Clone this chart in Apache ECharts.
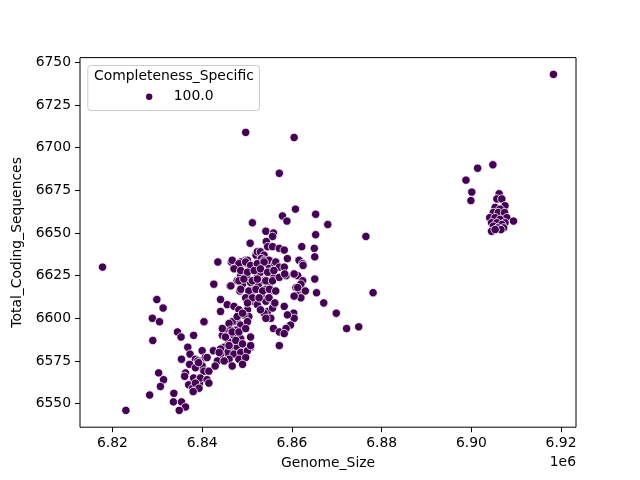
<!DOCTYPE html>
<html>
<head>
<meta charset="utf-8">
<script src="https://cdn.jsdelivr.net/npm/echarts@6/dist/echarts.min.js"></script>
<style>html,body{margin:0;padding:0;background:#fff}#c{width:640px;height:480px}</style>
</head>
<body>
<div id="c"></div>
<script>
const genomeSize = [
6817800,6823000,6828300,6829000,6828900,6829900,6831300,6830500,6830300,6831400,
6830700,6834500,6835300,6838100,6840500,6836800,6837300,6835400,6838500,6837200,
6836300,6836100,6837000,6838100,6839200,6837900,6839900,6840200,6840000,6839400,
6833700,6833600,6835400,6836300,6834900,
6843500,6846500,6847600,6848400,6849700,6850100,6852000,6852900,6853500,6847800,
6848600,6849000,6849900,6850800,6851200,6852300,6853000,6852600,6853800,6854900,
6855700,6856000,6854900,6854200,6855300,6853400,6851400,6852300,6842600,6846200,
6844100,6845600,6847100,6844100,6848400,6856000,6854600,6855300,6853800,6853000,
6855900,6857200,6857200,6850800,6850100,6850400,6849300,6848200,6847800,6846700,
6846000,6848600,6847500,6846400,6844900,6844500,6845600,6847100,6848600,6846000,
6844900,6846400,6847800,6848200,6846700,6845600,6844100,6843400,6842500,6840700,
6839000,6840000,6838500,6840400,6841500,6839600,6841100,6838500,6839300,6841500,
6838000,6854200,
6851200,6854200,6855900,6855700,6850700,6854300,6854600,6855700,6857200,6852300,
6853000,6853800,6853200,6853800,6854900,6856200,6850100,6848600,6846700,6860800,
6857900,6858900,6858300,6862200,6859000,6861600,6862400,6848200,6849700,6850800,
6852300,6853800,6856400,6857200,6847100,6848600,6850100,6851600,6853000,6854600,
6856000,6858300,6860500,6846400,6848200,6849300,6851200,6852300,6854200,6855700,
6857200,6858700,6861300,6862400,6848600,6850400,6852000,6853500,6855000,6856400,
6860900,6861600,6862700,6849700,6851200,6852700,6854900,
6848200,6850100,6854200,6855700,6840400,6844500,6847800,6849000,6850100,6846700,
6845200,6848200,6849700,6850800,6847500,6846000,6849000,6847100,6848600,6850100,
6850800,6844100,6846000,6848200,6849700,6849000,6846700,6844900,6843800,6841100,
6839200,6842900,
6865300,6876500,6865100,6862500,6858400,6860500,6865100,6862000,6861300,6863000,
6862000,6860500,6865500,6878100,6867100,6869900,6872200,6874900,6856200,6858300,
6860400,6860500,6859000,6859700,6858700,6858300,6865000,
6865300,6868000,6849700,6860500,6857200,
6904800,6901400,6898800,6900100,6899900,6906200,6905700,6906800,6907500,6905300,
6906400,6904900,6906000,6907400,6907900,6904100,6905300,6906400,6907500,6909400,
6904500,6905700,6906800,6907200,6904900,6905900,6904500,6906600,6905300,6918300
];
const codingSeqs = [
6630,6546,6555,6587,6600,6611,6606,6598,6568,6564,
6560,6592,6589,6590,6598,6583,6579,6576,6576,6573,
6568,6566,6561,6565,6563,6559,6575,6570,6581,6562,
6556,6551,6551,6548,6546,
6633,6633,6630,6631,6634,6632,6637,6638,6636,6622,
6625,6620,6624,6621,6616,6624,6627,6620,6622,6631,
6628,6624,6619,6617,6616,6612,6610,6608,6620,6619,
6611,6608,6607,6604,6616,6608,6604,6600,6603,6605,
6594,6592,6584,6583,6605,6601,6602,6602,6598,6598,
6597,6596,6593,6593,6593,6590,6589,6590,6588,6586,
6583,6582,6583,6579,6579,6580,6579,6575,6581,6577,
6575,6572,6571,6569,6569,6565,6564,6562,6559,6562,
6557,6610,
6656,6651,6650,6648,6644,6645,6642,6642,6641,6639,
6639,6637,6635,6634,6634,6632,6634,6633,6634,6664,
6660,6657,6640,6642,6635,6634,6632,6632,6633,6631,
6632,6633,6633,6630,6629,6628,6627,6628,6629,6627,
6628,6630,6626,6619,6622,6623,6622,6623,6622,6622,
6624,6625,6625,6622,6617,6616,6617,6616,6617,6616,
6618,6616,6616,6612,6612,6612,6612,
6605,6609,6600,6606,6598,6594,6601,6603,6598,6592,
6589,6592,6594,6589,6587,6584,6585,6579,6580,6581,
6584,6582,6576,6576,6577,6573,6572,6575,6580,6577,
6574,6572,
6649,6648,6636,6631,6626,6626,6623,6620,6618,6616,
6612,6613,6615,6615,6609,6603,6594,6595,6609,6607,
6603,6600,6602,6596,6594,6591,6641,
6661,6655,6709,6706,6685,
6690,6688,6681,6674,6669,6673,6670,6670,6666,6665,
6664,6662,6662,6662,6659,6659,6659,6658,6656,6657,
6656,6656,6655,6653,6654,6653,6651,6652,6652,6743
];
const xTicks = [6820000, 6840000, 6860000, 6880000, 6900000, 6920000];
const yTicks = [6550, 6575, 6600, 6625, 6650, 6675, 6700, 6725, 6750];
const hueTitle = 'Completeness_Specific';
const hueLevels = ['100.0'];
const xName = 'Genome_Size';
const yName = 'Total_Coding_Sequences';
const xOffsetText = '1e6';

function pad(arr) {
  const lo = Math.min(...arr), hi = Math.max(...arr), m = (hi - lo) * 0.05;
  return [lo - m, hi + m];
}
const [xmin, xmax] = pad(genomeSize);
const [ymin, ymax] = pad(codingSeqs);
const points = genomeSize.map((g, i) => [g, codingSeqs[i]]);

const FONT = 'DejaVu Sans';
const FS = 13.9;
const chart = echarts.init(document.getElementById('c'), null, {renderer: 'canvas'});
chart.setOption({
  animation: false,
  backgroundColor: '#fff',
  title: {
    text: hueTitle, left: 94, top: 68, padding: 0,
    textStyle: {fontFamily: FONT, fontSize: FS, fontWeight: 'normal', color: '#000', lineHeight: 16}
  },
  legend: {
    data: hueLevels, left: 144, top: 89.7, padding: 0,
    icon: 'circle', itemWidth: 39, itemHeight: 8.4,
    textStyle: {fontFamily: FONT, fontSize: FS, color: '#000'},
    selectedMode: false
  },
  grid: {left: 80, right: 64, top: 57.6, bottom: 52.8, show: true, borderColor: '#000', borderWidth: 1, backgroundColor: 'transparent'},
  xAxis: {
    type: 'value', min: xmin, max: xmax,
    axisLine: {show: false}, splitLine: {show: false},
    axisTick: {show: true, length: 5, lineStyle: {color: '#000', width: 1}, customValues: xTicks},
    axisLabel: {customValues: xTicks, formatter: v => (v / 1e6).toFixed(2), color: '#000', fontFamily: FONT, fontSize: FS, margin: 9},
    name: xName, nameLocation: 'middle', nameGap: 29,
    nameTextStyle: {fontFamily: FONT, fontSize: FS, color: '#000'}
  },
  yAxis: {
    type: 'value', min: ymin, max: ymax,
    axisLine: {show: false}, splitLine: {show: false},
    axisTick: {show: true, length: 5, lineStyle: {color: '#000', width: 1}, customValues: yTicks},
    axisLabel: {customValues: yTicks, formatter: v => String(Math.round(v)), color: '#000', fontFamily: FONT, fontSize: FS, margin: 9},
    name: yName, nameLocation: 'middle', nameGap: 50, nameRotate: 90,
    nameTextStyle: {fontFamily: FONT, fontSize: FS, color: '#000'}
  },
  graphic: [
    {type: 'rect', z: -1, left: 87.3, top: 65, shape: {width: 171.7, height: 45, r: 3},
     style: {fill: 'rgba(255,255,255,0.8)', stroke: '#cccccc', lineWidth: 1}},
    {type: 'text', right: 64, top: 455, style: {text: xOffsetText, font: FS + 'px "' + FONT + '"', fill: '#000'}}
  ],
  series: [{
    type: 'scatter', name: hueLevels[0], data: points,
    symbol: 'circle', symbolSize: 8.4,
    itemStyle: {color: '#440154', borderColor: '#ffffff', borderWidth: 0.8, opacity: 1},
    emphasis: {disabled: true}
  }]
});
</script>
</body>
</html>
